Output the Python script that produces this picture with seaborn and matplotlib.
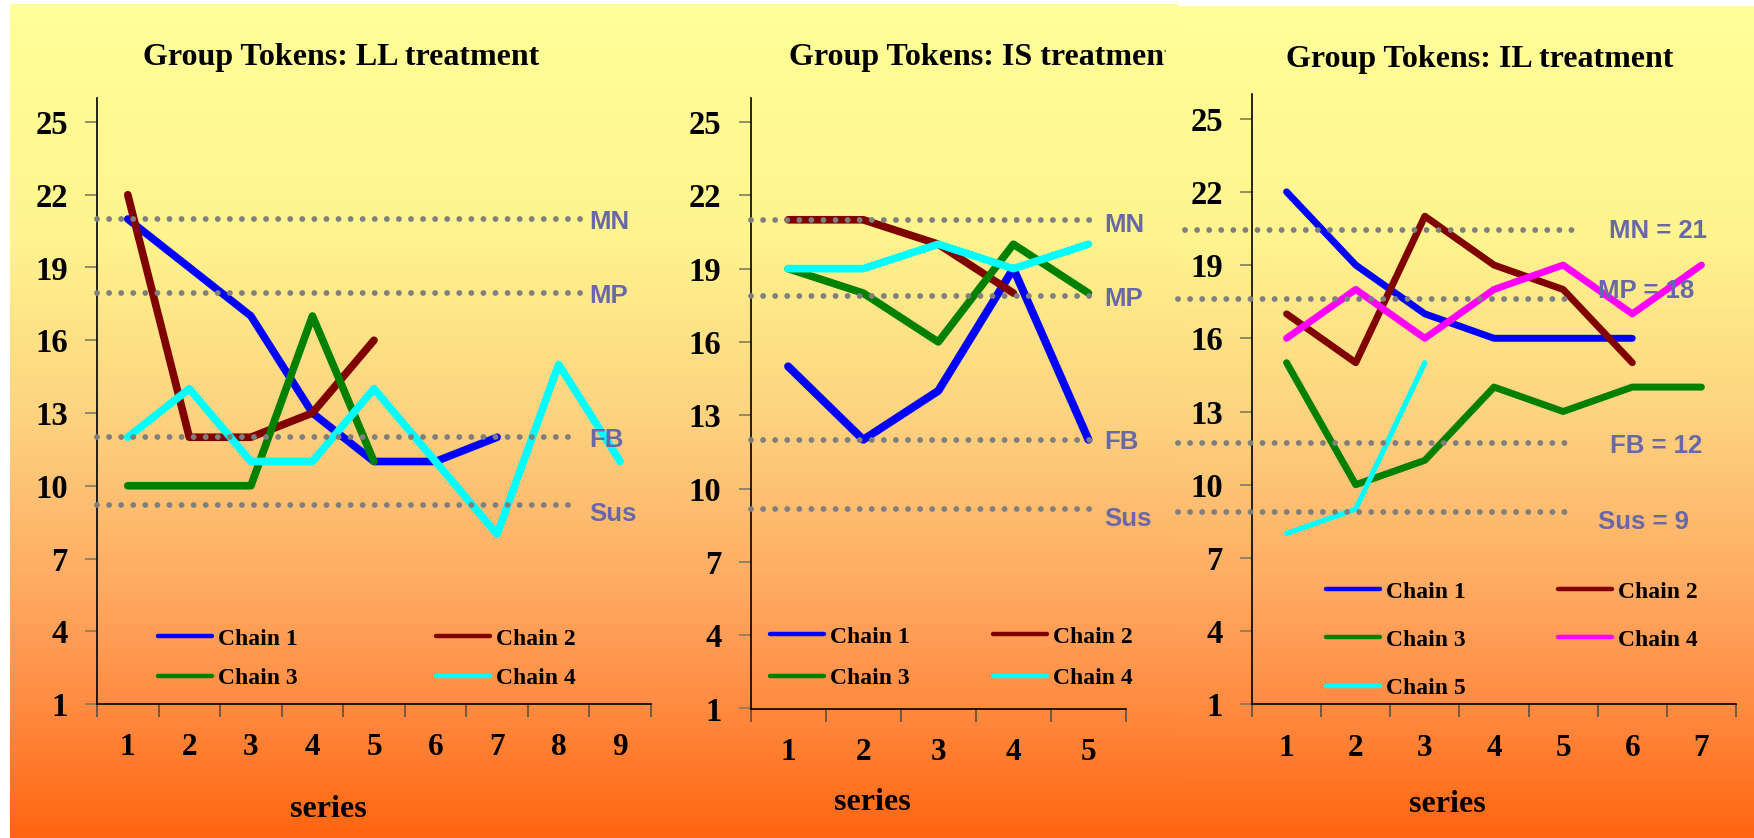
import numpy as np
import pandas as pd
import matplotlib
matplotlib.use("Agg")
import matplotlib.pyplot as plt
import seaborn as sns
from matplotlib.colors import LinearSegmentedColormap
from matplotlib.transforms import Bbox, TransformedBbox
from matplotlib.font_manager import FontProperties

# ---------------- data ----------------
ll_title = "Group Tokens: LL treatment"
ll_chain1 = [21, 19, 17, 13, 11, 11, 12]
ll_chain2 = [22, 12, 12, 13, 16]
ll_chain3 = [10, 10, 10, 17, 11]
ll_chain4 = [12, 14, 11, 11, 14, 11, 8, 15, 11]
ll_n_series = 9

is_title = "Group Tokens: IS treatment"
is_chain1 = [15, 12, 14, 19, 12]
is_chain2 = [21, 21, 20, 18]
is_chain3 = [19, 18, 16, 20, 18]
is_chain4 = [19, 19, 20, 19, 20]
is_n_series = 5

il_title = "Group Tokens: IL treatment"
il_chain1 = [22, 19, 17, 16, 16, 16]
il_chain2 = [17, 15, 21, 19, 18, 15]
il_chain3 = [15, 10, 11, 14, 13, 14, 14]
il_chain4 = [16, 18, 16, 18, 19, 17, 19]
il_chain5 = [8, 9, 15]
il_n_series = 7

y_ticks = [1, 4, 7, 10, 13, 16, 19, 22, 25]

ref_labels_short = ["MN", "MP", "FB", "Sus"]
ll_ref = [21, 17.93, 12, 9.2]
is_ref = [21, 17.9, 12, 9.16]
il_ref = [20.44, 17.6, 11.7, 8.9]
il_ref_labels = ["MN = 21", "MP = 18", "FB = 12", "Sus = 9"]

x_label = "series"

# ---------------- style ----------------
sns.set_theme(style="white")
plt.rcParams["font.family"] = ["Liberation Serif", "DejaVu Serif"]
plt.rcParams["font.weight"] = "bold"

W, H = 1754, 838
fig = plt.figure(figsize=(W / 100, H / 100), dpi=100)
fig.patch.set_facecolor("white")


def fx(x):
    return x / W


def fy(y):
    return 1 - y / H


# background gradient
bg = fig.add_axes([0, 0, 1, 1], zorder=-10)
bg.axis("off")
grad_cmap = LinearSegmentedColormap.from_list(
    "bg", [(0.0, "#FFFF99"), (0.28, "#FFF48E"), (0.5, "#FDD27F"),
           (0.7, "#FFAA62"), (0.85, "#FF8A40"), (1.0, "#FF6510")])
grad = grad_cmap(np.linspace(0, 1, 400))[:, None, :3]
bg.imshow(grad, extent=[10, 1178, H, 5], aspect="auto", interpolation="bilinear")
bg.imshow(grad, extent=[1178, W, H, 7], aspect="auto", interpolation="bilinear")
bg.set_xlim(0, W)
bg.set_ylim(H, 0)

ref_font = FontProperties(family="Liberation Sans", weight="bold", size=18.5)
leg_font = FontProperties(family="Liberation Serif", weight="bold", size=17)
ref_label_color = "#6868A8"


def make_panel(rect_px, n_series, chains, palette, widths, title, title_xy, xlab_xy,
               ref_vals, ref_labels, ref_x_spans, ref_label_pos,
               leg_anchor, leg_order, leg_kw, title_clip=None):
    left, right, top, bottom = rect_px
    ax = fig.add_axes([fx(left), fy(bottom), fx(right) - fx(left), (bottom - top) / H])
    ax.set_facecolor("none")
    rows = []
    for name, vals in chains:
        for i, v in enumerate(vals):
            rows.append({"series": i + 1, "tokens": v, "chain": name})
    df = pd.DataFrame(rows)
    names = [c[0] for c in chains]
    sns.lineplot(data=df, x="series", y="tokens", hue="chain", hue_order=names,
                 palette=palette, estimator=None, sort=False, linewidth=widths[0],
                 ax=ax, legend=False)
    lines = list(ax.get_lines())
    for ln, w in zip(lines, widths):
        ln.set_linewidth(w)
        ln.set_solid_capstyle("round")
        ln.set_solid_joinstyle("round")
    # reference dotted lines
    for v, (x0, x1) in zip(ref_vals, ref_x_spans):
        ax.plot([x0, x1], [v, v], transform=ax.get_yaxis_transform(),
                color="#7F7F7F", lw=4.2, linestyle=(0, (0.01, 2.06)),
                dash_capstyle="round", clip_on=False, zorder=5)
    for lab, v, (lx, dy) in zip(ref_labels, ref_vals, ref_label_pos):
        ax.annotate(lab, xy=(lx, v), xycoords=ax.get_yaxis_transform(),
                    xytext=(0, -dy * 0.72), textcoords="offset points",
                    ha="left", va="center_baseline", fontproperties=ref_font,
                    color=ref_label_color, zorder=6, annotation_clip=False)
    ax.set_xlim(0.5, n_series + 0.5)
    ax.set_ylim(1, 26)
    ax.set_xticks(range(1, n_series + 1))
    ax.set_xticklabels([str(i) for i in range(1, n_series + 1)])
    ax.set_xticks(np.arange(0.5, n_series + 1, 1.0), minor=True)
    ax.set_yticks(y_ticks)
    ax.set_yticklabels([str(t) for t in y_ticks])
    ax.tick_params(axis="x", which="major", length=0, pad=21, labelsize=22.5,
                   labelcolor="black", bottom=True)
    ax.tick_params(axis="x", which="minor", length=9, width=1.2, color="#5a5040",
                   direction="out", bottom=True)
    ax.tick_params(axis="y", which="major", length=9, width=1.2, color="#807a60",
                   direction="out", pad=12, labelsize=23.5, labelcolor="black", left=True)
    for s in ["top", "right"]:
        ax.spines[s].set_visible(False)
    for s in ["left", "bottom"]:
        ax.spines[s].set_color("black")
        ax.spines[s].set_linewidth(1.2)
    ax.set_xlabel("")
    ax.set_ylabel("")
    ax.grid(False)
    # legend
    handles = [lines[i] for i in leg_order]
    labels = [names[i] for i in leg_order]
    leg = ax.legend(handles, labels, ncol=2, loc="upper left",
                    bbox_to_anchor=(fx(leg_anchor[0]), fy(leg_anchor[1])),
                    bbox_transform=fig.transFigure, frameon=False, borderpad=0,
                    borderaxespad=0, prop=leg_font, handlelength=2.3,
                    handletextpad=0.25, **leg_kw)
    for h in leg.get_lines():
        h.set_linewidth(3.2)
        h.set_solid_capstyle("round")
    for t in leg.get_texts():
        t.set_color("black")
    # title and x label
    t = fig.text(fx(title_xy[0]), fy(title_xy[1]), title, ha="center", va="baseline",
                 fontsize=23, fontweight="bold", color="black",
                 family=["Liberation Serif", "DejaVu Serif"])
    if title_clip is not None:
        t.set_clip_box(TransformedBbox(Bbox.from_extents(0, 0, fx(title_clip), 1),
                                       fig.transFigure))
        t.set_clip_on(True)
    fig.text(fx(xlab_xy[0]), fy(xlab_xy[1]), x_label, ha="center", va="baseline",
             fontsize=23, fontweight="bold", color="black",
             family=["Liberation Serif", "DejaVu Serif"])
    return ax


pal4 = {"Chain 1": "#0000FF", "Chain 2": "#800000", "Chain 3": "#008000",
        "Chain 4": "#00FFFF"}
pal5 = {"Chain 1": "#0000FF", "Chain 2": "#800000", "Chain 3": "#008000",
        "Chain 4": "#FF00FF", "Chain 5": "#00FFFF"}

# Panel 1: LL
make_panel((97, 651, 97.75, 704), ll_n_series,
           [("Chain 1", ll_chain1), ("Chain 2", ll_chain2),
            ("Chain 3", ll_chain3), ("Chain 4", ll_chain4)],
           pal4, [5.5, 5.5, 5.5, 5.5],
           ll_title, (341, 65), (328, 817),
           ll_ref, ref_labels_short,
           [(0, 0.874), (0, 0.874), (0, 0.852), (0, 0.852)],
           [(0.888, 0), (0.888, 0), (0.888, 0), (0.888, 6)],
           (158, 628), [0, 2, 1, 3],
           dict(columnspacing=5.85, labelspacing=0.75))

# Panel 2: IS
make_panel((750.6, 1126, 97.6, 708.5), is_n_series,
           [("Chain 1", is_chain1), ("Chain 2", is_chain2),
            ("Chain 3", is_chain3), ("Chain 4", is_chain4)],
           pal4, [5.8, 5.5, 5.5, 5.5],
           is_title, (982, 65), (872, 810),
           is_ref, ref_labels_short,
           [(0, 0.904)] * 4,
           [(0.941, 3), (0.941, 1), (0.941, 0), (0.941, 7)],
           (770, 626), [0, 2, 1, 3],
           dict(columnspacing=3.5, labelspacing=0.84), title_clip=1166)

# Panel 3: IL
make_panel((1252, 1736, 94.2, 704.4), il_n_series,
           [("Chain 1", il_chain1), ("Chain 2", il_chain2), ("Chain 3", il_chain3),
            ("Chain 4", il_chain4), ("Chain 5", il_chain5)],
           pal5, [5.0, 5.0, 5.0, 5.0, 3.8],
           il_title, (1480, 67), (1447, 812),
           il_ref, il_ref_labels,
           [(-0.138, 0.665), (-0.153, 0.655), (-0.153, 0.655), (-0.153, 0.655)],
           [(0.738, -1), (0.715, -11), (0.739, 0), (0.715, 8)],
           (1326, 581), [0, 2, 4, 1, 3],
           dict(columnspacing=3.9, labelspacing=1.13))

fig.savefig("out.png", dpi=100)
